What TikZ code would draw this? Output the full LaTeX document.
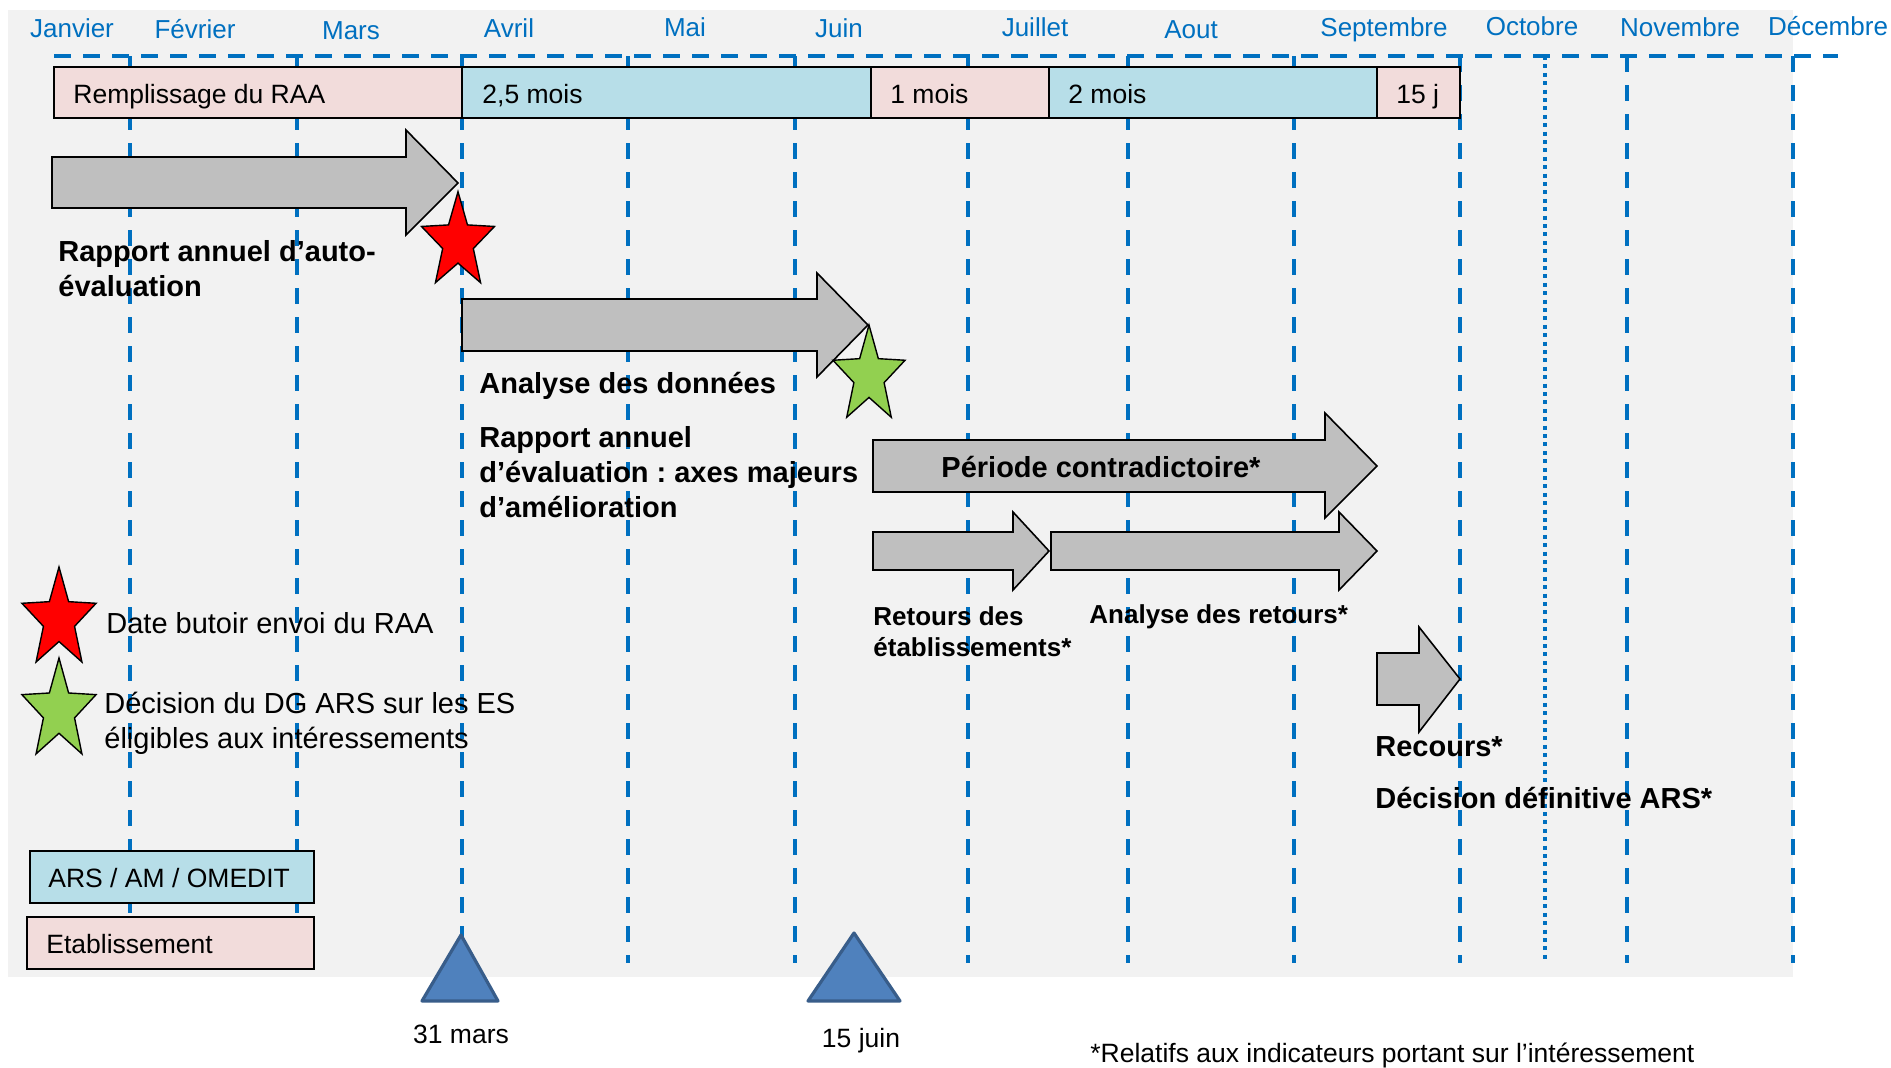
\documentclass[tikz,border=0pt]{standalone}
\usepackage{fontspec}
\setmainfont{Liberation Sans}
\frenchspacing
\definecolor{bggray}{HTML}{F2F2F2}
\definecolor{lineblue}{HTML}{0070C0}
\definecolor{pinkc}{HTML}{F2DCDB}
\definecolor{lblue}{HTML}{B7DEE8}
\definecolor{arrgray}{HTML}{BFBFBF}
\definecolor{starred}{HTML}{FF0000}
\definecolor{stargreen}{HTML}{92D050}
\definecolor{trifill}{HTML}{4F81BD}
\definecolor{tridraw}{HTML}{385D8A}
\tikzset{
  vline/.style={draw=lineblue, line width=1.8pt, dash pattern=on 8pt off 6.5pt},
  vdot/.style={draw=lineblue, line width=1.9pt, dash pattern=on 2pt off 2.2pt},
  hline/.style={draw=lineblue, line width=1.9pt, dash pattern=on 8.5pt off 6pt},
  segbox/.style={draw=black, line width=1pt},
  bigarrow/.style={fill=arrgray, draw=black, line width=0.8pt, line join=miter},
  starsty/.style={draw=black, line width=0.7pt, line join=miter},
  tri/.style={fill=trifill, draw=tridraw, line width=1.6pt, line join=round},
  month/.style={text=lineblue, font=\fontsize{13}{15}\selectfont, inner sep=0pt, anchor=base},
  reg/.style={font=\fontsize{13.25}{16}\selectfont, inner sep=0pt, anchor=base west},
  regc/.style={font=\fontsize{13.25}{16}\selectfont, inner sep=0pt, anchor=base},
  regL/.style={font=\fontsize{14.5}{17}\selectfont, inner sep=0pt, anchor=base west},
  bld/.style={font=\bfseries\fontsize{14.5}{17}\selectfont, inner sep=0pt, anchor=base west},
  bldc/.style={font=\bfseries\fontsize{14.5}{17}\selectfont, inner sep=0pt, anchor=base},
  bldS/.style={font=\bfseries\fontsize{13}{15}\selectfont, inner sep=0pt, anchor=base west},
}
\newcommand\starpath{(0,-1) -- (-0.247,-0.340) -- (-0.951,-0.309) -- (-0.399,0.130) -- (-0.588,0.809) -- (0,0.42) -- (0.588,0.809) -- (0.399,0.130) -- (0.951,-0.309) -- (0.247,-0.340) -- cycle}
\begin{document}
\begin{tikzpicture}[x=0.5pt,y=-0.5pt]
\useasboundingbox (0,0) rectangle (1891,1067);
\fill[white] (0,0) rectangle (1891,1067);
\fill[bggray] (8,10) rectangle (1793,977);

% grid lines
\foreach \x in {130,297,462,628,795,968,1128,1294,1460,1627,1793}
  \draw[vline] (\x,56) -- (\x,963);
\draw[vdot] (1545,56) -- (1545,963);
\draw[hline] (54,56) -- (1838,56);

% months
\node[month] (m1) at (72,37) {Janvier};
\node[month] (m2) at (195,38) {Février};
\node[month] (m3) at (351,39) {Mars};
\node[month] (m4) at (509,37) {Avril};
\node[month] (m5) at (685,36) {Mai};
\node[month] (m6) at (839,37) {Juin};
\node[month] (m7) at (1035,36) {Juillet};
\node[month] (m8) at (1191,38) {Aout};
\node[month] (m9) at (1384,36) {Septembre};
\node[month] (m10) at (1532,35) {Octobre};
\node[month] (m11) at (1680,36) {Novembre};
\node[month] (m12) at (1828,35) {Décembre};

% top row segments
\fill[pinkc] (54,67) rectangle (462,118);
\fill[lblue] (462,67) rectangle (871,118);
\fill[pinkc] (871,67) rectangle (1049,118);
\fill[lblue] (1049,67) rectangle (1377,118);
\fill[pinkc] (1377,67) rectangle (1460,118);
\draw[segbox] (54,67) rectangle (1460,118);
\foreach \x in {462,871,1049,1377} \draw[segbox] (\x,67) -- (\x,118);
\node[reg] (s1) at (73,103) {Remplissage du RAA};
\node[reg] (s2) at (482,103) {2,5 mois};
\node[reg] (s3) at (890,103) {1 mois};
\node[reg] (s4) at (1068,103) {2 mois};
\node[reg] (s5) at (1396,103) {15 j};

% arrows
\filldraw[bigarrow] (52,157) -- (406,157) -- (406,130) -- (458,183) -- (406,235) -- (406,208) -- (52,208) -- cycle;
\filldraw[bigarrow] (462,299) -- (817,299) -- (817,273) -- (868,325) -- (817,377) -- (817,351) -- (462,351) -- cycle;
\filldraw[bigarrow] (873,440) -- (1325,440) -- (1325,413) -- (1377,466) -- (1325,518) -- (1325,492) -- (873,492) -- cycle;
\filldraw[bigarrow] (873,532) -- (1013,532) -- (1013,512) -- (1049,551) -- (1013,590) -- (1013,570) -- (873,570) -- cycle;
\filldraw[bigarrow] (1051,532) -- (1339,532) -- (1339,512) -- (1377,551) -- (1339,590) -- (1339,570) -- (1051,570) -- cycle;
\filldraw[bigarrow] (1377,653) -- (1419,653) -- (1419,627) -- (1460,679) -- (1419,732) -- (1419,705) -- (1377,705) -- cycle;

% stars
\begin{scope}[shift={(458,242)},xscale=38.4,yscale=50.3]
  \filldraw[starsty, fill=starred] \starpath;
\end{scope}
\begin{scope}[shift={(869,376)},xscale=37.9,yscale=51]
  \filldraw[starsty, fill=stargreen] \starpath;
\end{scope}
\begin{scope}[shift={(59,619.5)},xscale=39,yscale=52.5]
  \filldraw[starsty, fill=starred] \starpath;
\end{scope}
\begin{scope}[shift={(59,711)},xscale=39,yscale=53]
  \filldraw[starsty, fill=stargreen] \starpath;
\end{scope}

% bold labels
\node[bld] (t1a) at (58,261) {Rapport annuel d’auto-};
\node[bld] (t1b) at (58,296) {évaluation};
\node[bld] (t2) at (479,393) {Analyse des données};
\node[bld] (t3a) at (479,447) {Rapport annuel};
\node[bld] (t3b) at (479,482) {d’évaluation : axes majeurs};
\node[bld] (t3c) at (479,517) {d’amélioration};
\node[bldc] (t4) at (1101,477) {Période contradictoire*};
\node[bldS] (t5a) at (873,625) {Retours des};
\node[bldS] (t5b) at (873,656) {établissements*};
\node[bldS] (t6) at (1089,623) {Analyse des retours*};
\node[bld] (t7) at (1375,756) {Recours*};
\node[bld] (t8) at (1375,808) {Décision définitive ARS*};

% legend
\node[regL] (l1) at (106,633) {Date butoir envoi du RAA};
\node[regL] (l2a) at (104,713) {Décision du DG ARS sur les ES};
\node[regL] (l2b) at (104,748) {éligibles aux intéressements};

\filldraw[segbox, fill=lblue] (30,851) rectangle (314,903);
\node[reg] (b1) at (48,887) {ARS / AM / OMEDIT};
\filldraw[segbox, fill=pinkc] (27,917) rectangle (314,969);
\node[reg] (b2) at (46,953) {Etablissement};

% milestones
\filldraw[tri] (461,935) -- (498,1001) -- (422,1001) -- cycle;
\filldraw[tri] (854,933) -- (900,1001) -- (808,1001) -- cycle;
\node[regc] (d1) at (461,1043) {31 mars};
\node[regc] (d2) at (861,1047) {15 juin};
\node[reg] (fn) at (1090,1062) {*Relatifs aux indicateurs portant sur l’intéressement};
\end{tikzpicture}
\end{document}
